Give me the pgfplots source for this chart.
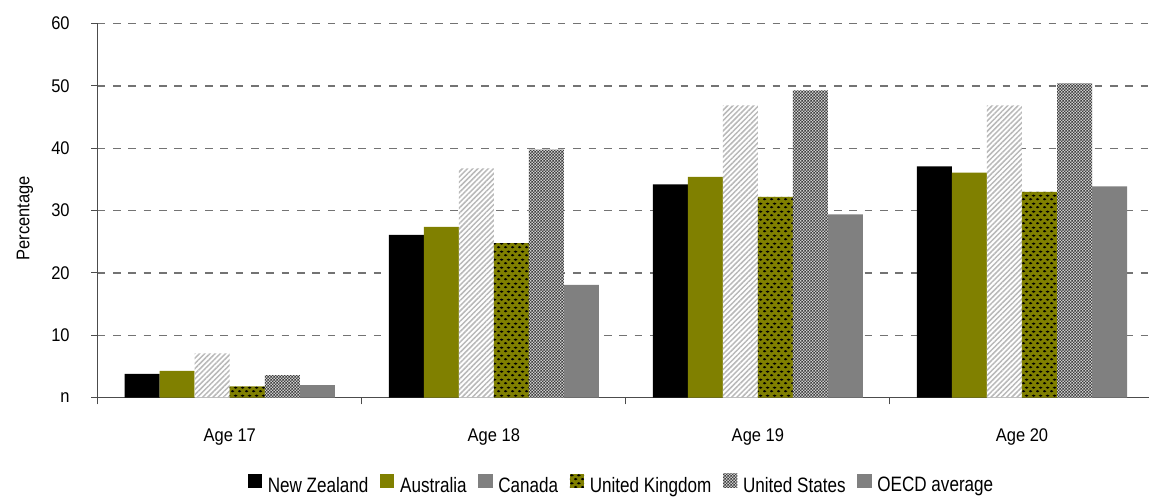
\documentclass[border=0pt]{standalone}
\usepackage{pgfplots}
\pgfplotsset{compat=1.18}
\usepackage{fontspec}
\setmainfont{Liberation Sans}[FakeStretch=0.9]
\newfontfamily\legendfont{Liberation Sans}[FakeStretch=0.82]
\usetikzlibrary{patterns,patterns.meta,calc}

\definecolor{olivebar}{RGB}{128,128,0}
\definecolor{midgray}{RGB}{128,128,128}
\definecolor{checkgray}{RGB}{205,205,205}
\definecolor{stripegray}{RGB}{185,185,185}

% staggered oval dots
\pgfdeclarepatternformonly{oval dots}{\pgfpointorigin}{\pgfqpoint{4.2pt}{4.8pt}}{\pgfqpoint{4.2pt}{4.8pt}}{%
  \pgfpathellipse{\pgfqpoint{1.05pt}{1.2pt}}{\pgfqpoint{1.3pt}{0pt}}{\pgfqpoint{0pt}{0.75pt}}%
  \pgfpathellipse{\pgfqpoint{3.15pt}{3.6pt}}{\pgfqpoint{1.3pt}{0pt}}{\pgfqpoint{0pt}{0.75pt}}%
  \pgfusepath{fill}}
% fine checkerboard
\pgfdeclarepatternformonly{fine checker}{\pgfpointorigin}{\pgfqpoint{2pt}{2pt}}{\pgfqpoint{2pt}{2pt}}{%
  \pgfpathrectangle{\pgfpointorigin}{\pgfqpoint{1pt}{1pt}}%
  \pgfpathrectangle{\pgfqpoint{1pt}{1pt}}{\pgfqpoint{1pt}{1pt}}%
  \pgfusepath{fill}}

\pgfplotstableread{
x NZ  AU   CA   UK   US   OECD
0 3.8 4.3  7.1  1.8  3.6  2.0
1 26.1 27.4 36.8 24.8 39.8 18.1
2 34.2 35.4 46.9 32.2 49.3 29.4
3 37.1 36.1 46.9 33.0 50.4 33.9
}\ratestable

\begin{document}
\begin{tikzpicture}
\begin{axis}[
  scale only axis,
  width=630.6pt, height=224.3pt,
  xmin=-0.5, xmax=3.481,
  ymin=0, ymax=60,
  axis x line*=bottom, axis y line*=left,
  axis line style={black!70, line width=0.6pt},
  ytick={0,10,...,60},
  yticklabels={n,10,20,30,40,50,60},
  xtick={0,1,2,3},
  xticklabels={Age 17,Age 18,Age 19,Age 20},
  minor xtick={-0.5,0.5,1.5,2.5,3.5},
  major x tick style={draw=none},
  tick align=outside,
  major tick length=4pt, minor tick length=4pt,
  tick style={black!70, line width=0.6pt},
  every tick label/.append style={font=\fontsize{11}{13}\selectfont},
  yticklabel style={xshift=-9.3pt},
  xticklabel style={yshift=-11.3pt},
  /pgf/number format/assume math mode=true,
  ymajorgrids,
  grid style={black!55, line width=0.7pt, dash pattern=on 4.6pt off 4.6pt},
  ylabel={Percentage},
  every axis y label/.style={at={(axis description cs:-0.0826,0.48)}, rotate=90, anchor=north,
    font=\fontsize{11}{13}\selectfont},
  legend columns=-1,
  legend style={at={(axis description cs:0.5,0)}, anchor=center, yshift=-52pt,
    draw=none, inner sep=0pt, font=\legendfont\fontsize{12.5}{14}\selectfont,
    nodes={inner xsep=3.4pt, inner ysep=0pt},
    /tikz/every even column/.append style={column sep=3.6pt}},
  boxlegend/.style={legend image code/.code={\fill[##1] (0pt,-1.2pt) rectangle (8.6pt,7.2pt);}},
  bar width=0.1326,
]
\addplot[ybar, bar shift=-0.3315, fill=black, draw=none, boxlegend]
  table[x=x, y=NZ] {\ratestable};
\addlegendentry{New Zealand}
\addplot[ybar, bar shift=-0.1989, fill=olivebar, draw=none, boxlegend]
  table[x=x, y=AU] {\ratestable};
\addlegendentry{Australia}
% Canada: striped bars, plain grey key
\addlegendimage{fill=midgray, draw=none, boxlegend}
\addlegendentry{Canada}
\addplot[ybar, bar shift=-0.0663, fill=white, draw=none, forget plot,
  postaction={pattern={Lines[angle=45, distance=2.2pt, line width=0.9pt]}, pattern color=stripegray}]
  table[x=x, y=CA] {\ratestable};
\addplot[ybar, bar shift=0.0663, fill=olivebar, draw=none,
  postaction={pattern=oval dots, pattern color=black}, boxlegend]
  table[x=x, y=UK] {\ratestable};
\addlegendentry{United Kingdom}
\addplot[ybar, bar shift=0.1989, fill=checkgray, draw=none,
  postaction={pattern=fine checker, pattern color=black!75}, boxlegend]
  table[x=x, y=US] {\ratestable};
\addlegendentry{United States}
\addplot[ybar, bar shift=0.3315, fill=midgray, draw=none, boxlegend]
  table[x=x, y=OECD] {\ratestable};
\addlegendentry{OECD average}
\end{axis}
\pgfresetboundingbox
\path[use as bounding box]
  ($(current axis.south west)+(-58.6pt,-59.1pt)$) rectangle
  ($(current axis.north east)+(0pt,14.2pt)$);
\end{tikzpicture}
\end{document}
